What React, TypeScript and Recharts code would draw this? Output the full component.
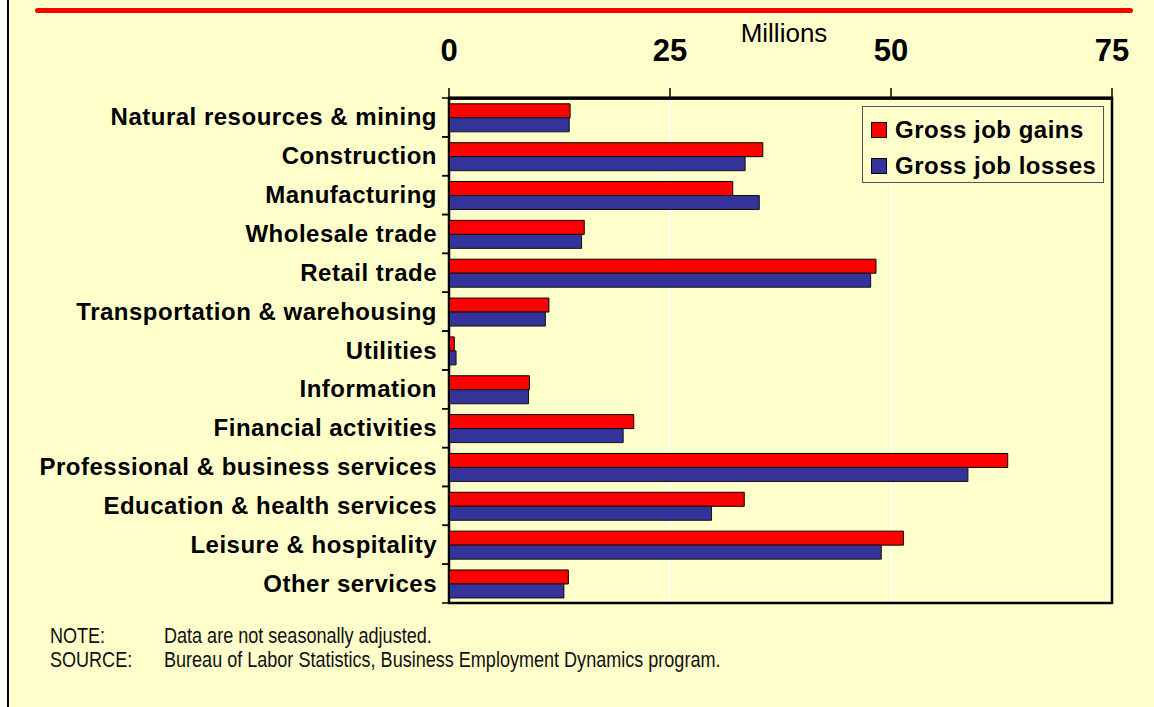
import React from 'react';
import { BarChart, Bar, XAxis, YAxis, CartesianGrid, Legend, ReferenceArea } from 'recharts';

const categories = [
  'Natural resources & mining',
  'Construction',
  'Manufacturing',
  'Wholesale trade',
  'Retail trade',
  'Transportation & warehousing',
  'Utilities',
  'Information',
  'Financial activities',
  'Professional & business services',
  'Education & health services',
  'Leisure & hospitality',
  'Other services',
];
const gains = [13.7, 35.5, 32.1, 15.3, 48.3, 11.3, 0.6, 9.1, 20.9, 63.2, 33.4, 51.4, 13.5];
const losses = [13.6, 33.5, 35.1, 15.0, 47.7, 10.9, 0.8, 9.0, 19.7, 58.7, 29.7, 48.9, 13.0];
const xTicks = [0, 25, 50, 75];
const seriesNames = ['Gross job gains', 'Gross job losses'];
const seriesColors = ['#FF0000', '#333399'];
const noteLabels = ['NOTE:', 'SOURCE:'];
const noteTexts = ['Data are not seasonally adjusted.', 'Bureau of Labor Statistics, Business Employment Dynamics program.'];

const data = categories.map((c, i) => ({ name: c, gains: gains[i], losses: losses[i] }));

const FONT = '"Liberation Sans", Arial, Helvetica, sans-serif';

const TopTick = (props: any) => {
  const { x, y, payload } = props;
  return (
    <text x={x} y={y} textAnchor="middle" fontFamily={FONT} fontWeight="bold" fontSize={31} fill="#000">
      {payload.value}
    </text>
  );
};

const CatTick = (props: any) => {
  const { x, y, payload, height, visibleTicksCount } = props;
  let half = payload && payload.offset ? payload.offset : 0;
  if (!half && height && visibleTicksCount) half = height / visibleTicksCount / 2;
  const ax = x + 12;
  return (
    <g>
      <text x={x} y={y + 8} textAnchor="end" fontFamily={FONT} fontWeight="bold" fontSize={24} letterSpacing={0.5} fill="#000">
        {payload.value}
      </text>
      <line x1={ax - 7} x2={ax} y1={y - half} y2={y - half} stroke="#000" strokeWidth={1.5} />
      <line x1={ax - 7} x2={ax} y1={y + half} y2={y + half} stroke="#000" strokeWidth={1.5} />
    </g>
  );
};

const LegendBox = (props: any) => {
  const items = props.payload || [];
  return (
    <div style={{ border: '1.5px solid #555', background: '#FFFFCC', padding: '5px 0 0 8px', boxSizing: 'border-box', width: 242, height: 77 }}>
      {items.map((it: any, i: number) => (
        <div key={i} style={{ display: 'flex', alignItems: 'center', height: 36 }}>
          <span style={{ display: 'inline-block', width: 14, height: 14, background: it.color, border: '1px solid #000', marginRight: 8, flex: 'none' }} />
          <span style={{ fontFamily: FONT, fontWeight: 'bold', fontSize: 24, lineHeight: '36px', letterSpacing: 0.5, color: '#000', whiteSpace: 'nowrap' }}>{it.value}</span>
        </div>
      ))}
    </div>
  );
};

const frameLines = (args: any) => {
  const o = args && args.offset ? args.offset : { top: 0, height: 0 };
  return [o.top, o.top + 0.5];
};

export default function App() {
  return (
    <div style={{ position: 'relative', width: 1154, height: 707, background: '#FFFFCC', overflow: 'hidden' }}>
      <style>{`body{margin:0}`}</style>
      <div style={{ position: 'absolute', left: 0, top: 0, width: 7, height: 707, background: '#fff' }} />
      <div style={{ position: 'absolute', left: 7, top: 0, width: 2, height: 707, background: '#000' }} />
      <div style={{ position: 'absolute', left: 35, top: 8, width: 1098, height: 5, background: '#FF0000', borderRadius: 3 }} />
      <div style={{ position: 'absolute', left: 784, top: 20, transform: 'translateX(-50%)', fontFamily: FONT, fontSize: 26, lineHeight: '26px', color: '#000', whiteSpace: 'nowrap' }}>Millions</div>
      <div style={{ position: 'absolute', left: 0, top: 0 }}>
        <BarChart
          width={1154}
          height={707}
          layout="vertical"
          data={data}
          margin={{ top: 58, right: 42, bottom: 104, left: 0 }}
          barCategoryGap="15%"
          barGap={0}
        >
          <CartesianGrid horizontal={false} vertical={true} stroke="#FFFFFF" strokeWidth={1.5} />
          <XAxis
            type="number"
            orientation="top"
            domain={[0, 75]}
            ticks={xTicks}
            height={40}
            tickSize={10}
            tickMargin={27}
            tickLine={{ stroke: '#000', strokeWidth: 1.5 }}
            axisLine={{ stroke: '#000', strokeWidth: 2.5 }}
            stroke="#000"
            tick={(p: any) => <TopTick {...p} />}
            interval={0}
          />
          <YAxis
            type="category"
            dataKey="name"
            width={449}
            tickSize={0}
            tickMargin={12}
            tickLine={false}
            axisLine={{ stroke: '#000', strokeWidth: 2 }}
            stroke="#000"
            tick={(p: any) => <CatTick {...p} />}
            interval={0}
          />
          <ReferenceArea x1={0} x2={75} fill="none" stroke="#000" strokeWidth={2.5} ifOverflow="visible" />
          <CartesianGrid horizontal={true} vertical={false} stroke="#000000" strokeWidth={2.5} horizontalCoordinatesGenerator={frameLines} />
          <Legend
            layout="vertical"
            align="center"
            verticalAlign="middle"
            content={(p: any) => <LegendBox {...p} />}
            wrapperStyle={{ position: 'absolute', left: 862, top: 106, width: 242, height: 77 }}
          />
          <Bar dataKey="gains" name={seriesNames[0]} fill={seriesColors[0]} stroke="#000" strokeWidth={1} isAnimationActive={false} />
          <Bar dataKey="losses" name={seriesNames[1]} fill={seriesColors[1]} stroke="#111" strokeWidth={1} isAnimationActive={false} />
        </BarChart>
      </div>
      {noteLabels.map((lab, i) => (
        <React.Fragment key={i}>
          <div style={{ position: 'absolute', left: 50, top: 625 + i * 24, fontFamily: FONT, fontSize: 22, lineHeight: '22px', color: '#111', transform: 'scaleX(0.82)', transformOrigin: 'left center', whiteSpace: 'nowrap' }}>{lab}</div>
          <div style={{ position: 'absolute', left: 164, top: 625 + i * 24, fontFamily: FONT, fontSize: 22, lineHeight: '22px', color: '#111', transform: 'scaleX(0.82)', transformOrigin: 'left center', whiteSpace: 'nowrap' }}>{noteTexts[i]}</div>
        </React.Fragment>
      ))}
    </div>
  );
}
